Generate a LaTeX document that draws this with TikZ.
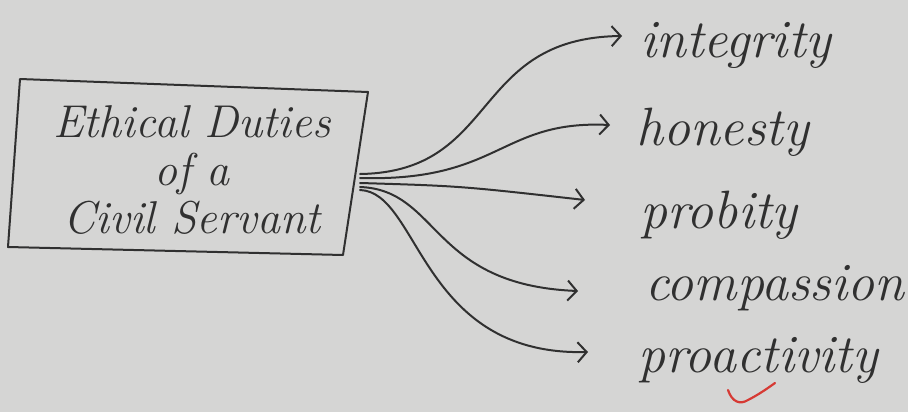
\documentclass[tikz,border=0pt]{standalone}
\usetikzlibrary{arrows.meta}
\definecolor{paper}{RGB}{213,213,212}
\definecolor{ink}{RGB}{48,48,48}
\definecolor{tick}{RGB}{214,58,52}
\tikzset{
  inkline/.style={draw=ink, line width=2pt, line cap=round, line join=round},
  duty/.style={inkline, -{Straight Barb[length=9pt,width=20pt,line width=2pt]}},
  label/.style={anchor=base west, inner sep=0pt, text=ink,
    font=\fontsize{54}{60}\selectfont\itshape},
  boxtext/.style={inner sep=0pt, text=ink, align=center,
    font=\fontsize{46}{48}\selectfont\itshape}
}
\begin{document}
\begin{tikzpicture}[x=1pt,y=-1pt]
  \fill[paper] (0,0) rectangle (908,412);
  \useasboundingbox (0,0) rectangle (908,412);
  % box outline
  \coordinate (b1) at (20,79);
  \coordinate (b2) at (368,92);
  \coordinate (b3) at (343,255);
  \coordinate (b4) at (8,247);
  \draw[inkline] (b1) -- (b2) -- (b3) -- (b4) -- cycle;
  \node[boxtext] (box) at (192,170) {Ethical Duties\\of a\\Civil Servant};
  % labels
  \node[label] (t1) at (640,58) {integrity};
  \node[label] (t2) at (636,145) {honesty};
  \node[label] (t3) at (640,228) {probity};
  \node[label] (t4) at (645,300) {compassion};
  \node[label] (t5) at (638,372) {proactivity};
  % start and tip points
  \coordinate (s1) at (360,174);
  \coordinate (s2) at (360,178);
  \coordinate (s3) at (360,183);
  \coordinate (s4) at (360,187);
  \coordinate (s5) at (360,190);
  \coordinate (e1) at (622,36);
  \coordinate (e2) at (610,125);
  \coordinate (e3) at (585,200);
  \coordinate (e4) at (578,291);
  \coordinate (e5) at (588,352);
  \draw[duty] (s1) .. controls (500,172) and (470,38) .. (e1);
  \draw[duty] (s2) .. controls (500,182) and (500,120) .. (e2);
  \draw[duty] (s3) .. controls (460,186) .. (e3);
  \draw[duty] (s4) .. controls (440,190) and (430,285) .. (e4);
  \draw[duty] (s5) .. controls (420,192) and (420,356) .. (e5);
  % red tick
  \draw[draw=tick, line width=2.2pt, line cap=round] (728,390) .. controls (732,402) and (740,405) .. (748,400) .. controls (758,395) and (768,388) .. (775,383);
\end{tikzpicture}
\end{document}
